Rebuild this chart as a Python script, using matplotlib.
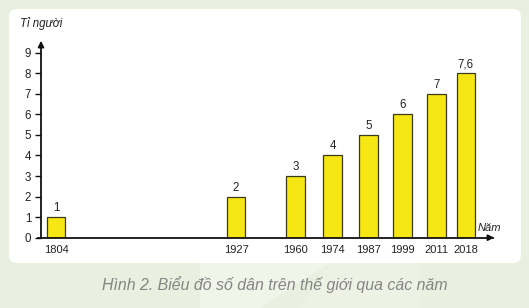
import matplotlib
matplotlib.use("Agg")
import matplotlib.pyplot as plt
from matplotlib.patches import FancyBboxPatch

plt.rcParams['font.family'] = ['Liberation Sans', 'DejaVu Sans']

# ---- data ----
years = ['1804', '1927', '1960', '1974', '1987', '1999', '2011', '2018']
heights = [1, 2, 3, 4, 5, 6, 7, 8]          # bar heights as drawn
value_labels = ['1', '2', '3', '4', '5', '6', '7', '7,6']
y_ticks = [0, 1, 2, 3, 4, 5, 6, 7, 8, 9]

# ---- layout (pixel-based slot positions along the x axis) ----
slot_x = [56, 236, 295.7, 332.5, 368.3, 402.3, 436.3, 465.8]

W, H = 529, 308
fig = plt.figure(figsize=(W / 100, H / 100), dpi=100)
fig.patch.set_facecolor('#E9F0DF')

# background / white panel
bg = fig.add_axes([0, 0, 1, 1])
bg.set_xlim(0, W)
bg.set_ylim(H, 0)
bg.axis('off')
bg.add_patch(FancyBboxPatch((9 + 8, 9 + 8), 512 - 16, 254 - 16,
                            boxstyle="round,pad=8", fc='white', ec='none'))
# faint watermark shapes
bg.add_patch(plt.Polygon([[200, 263], [330, 263], [260, 308], [200, 308]],
                         closed=True, fc='#F0F4E9', ec='none'))
bg.add_patch(plt.Polygon([[330, 263], [420, 263], [420, 308], [300, 308]],
                         closed=True, fc='#EDF2E5', ec='none'))
bg.text(275, 285, 'Hình 2. Biểu đồ số dân trên thế giới qua các năm',
        ha='center', va='center', fontsize=11.4, style='italic', color='#858585')

# main axes: x in pixel units, y in data units
x0, x1 = 41, 497
y_bottom_px, y_top_px = 237.7, 38
unit = (237.7 - 52.7) / 9
ymax = (y_bottom_px - y_top_px) / unit
ax = fig.add_axes([x0 / W, (H - y_bottom_px) / H, (x1 - x0) / W,
                   (y_bottom_px - y_top_px) / H])
ax.set_facecolor('none')
ax.set_xlim(x0, x1)
ax.set_ylim(0, ymax)

ax.bar(slot_x, heights, width=18.5, color='#F5E614', edgecolor='#3A3A1A',
       linewidth=0.9, zorder=2)
for x, h, lab in zip(slot_x, heights, value_labels):
    ax.text(x, h + 0.15, lab, ha='center', va='bottom', fontsize=8.3, color='#222222')

for s in ['top', 'right']:
    ax.spines[s].set_visible(False)
for s in ['left', 'bottom']:
    ax.spines[s].set_linewidth(1.3)
    ax.spines[s].set_color('#111111')
ax.spines['bottom'].set_bounds(x0 - 3, x1 - 4)
ax.spines['left'].set_bounds(0, ymax - 0.3)

ax.set_yticks(y_ticks)
ax.set_yticklabels([str(t) for t in y_ticks], fontsize=8.3, color='#222222')
ax.tick_params(axis='y', length=4, width=1, pad=3, color='#111111')
ax.set_xticks(slot_x)
ax.set_xticklabels(years, fontsize=8, color='#222222')
ax.tick_params(axis='x', length=0, pad=5)

# arrow heads
ax.annotate('', xy=(x0, ymax), xytext=(x0, ymax - 0.6),
            arrowprops=dict(arrowstyle='-|>', color='#111111', lw=1.2,
                            mutation_scale=9), annotation_clip=False)
ax.annotate('', xy=(x1, 0), xytext=(x1 - 12, 0),
            arrowprops=dict(arrowstyle='-|>', color='#111111', lw=1.2,
                            mutation_scale=9), annotation_clip=False)

bg.text(20, 24, 'Tỉ người', ha='left', va='center', fontsize=8.3,
        style='italic', color='#222222')
bg.text(478, 228, 'Năm', ha='left', va='center', fontsize=8,
        style='italic', color='#222222')

fig.savefig('out.png', dpi=100, facecolor=fig.get_facecolor())
